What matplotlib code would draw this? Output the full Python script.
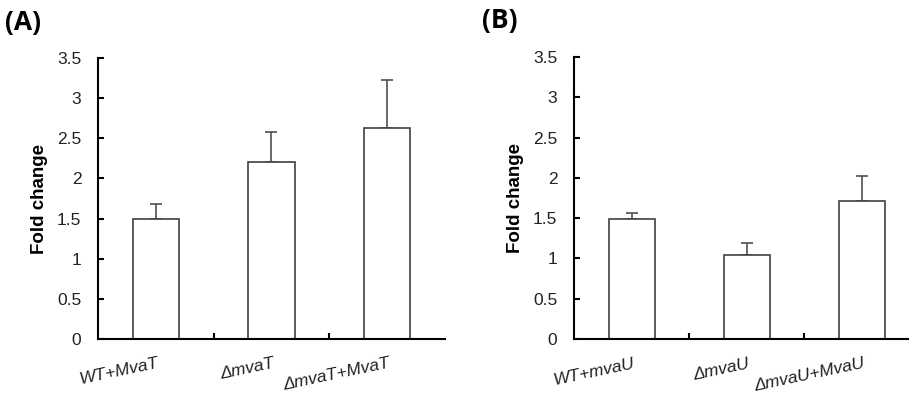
import matplotlib.pyplot as plt
import numpy as np

# panel A
labels_a = ["WT+MvaT", "ΔmvaT", "ΔmvaT+MvaT"]
vals_a = [1.49, 2.20, 2.63]
err_a = [0.19, 0.38, 0.60]

# panel B
labels_b = ["WT+mvaU", "ΔmvaU", "ΔmvaU+MvaU"]
vals_b = [1.49, 1.04, 1.71]
err_b = [0.07, 0.15, 0.31]

yticks = [0, 0.5, 1, 1.5, 2, 2.5, 3, 3.5]
ytick_labels = ["0", "0.5", "1", "1.5", "2", "2.5", "3", "3.5"]

plt.rcParams['font.family'] = ['Liberation Sans', 'DejaVu Sans']

fig = plt.figure(figsize=(9.09, 4.01), dpi=100)
ax_a = fig.add_axes([0.1078, 0.1546, 0.3817, 0.7007])
ax_b = fig.add_axes([0.6315, 0.1546, 0.3795, 0.7032])


def draw(ax, labels, vals, err, tag):
    x = np.arange(len(vals))
    ax.bar(x, vals, width=0.4, color='white', edgecolor='#404040', linewidth=1.2, zorder=2)
    ax.errorbar(x, vals, yerr=[np.zeros(len(err)), err], fmt='none', ecolor='#505050',
                elinewidth=1.2, capsize=4, capthick=1.2, zorder=1)
    ax.set_xlim(-0.5, len(vals) - 0.5)
    ax.set_ylim(0, 3.5)
    ax.set_yticks(yticks)
    ax.set_yticklabels(ytick_labels, fontsize=12.5, color='#222222')
    ax.set_xticks([0.5, 1.5])
    ax.set_xticklabels([])
    ax.tick_params(axis='y', direction='in', length=4, width=1.5, pad=12)
    ax.tick_params(axis='x', direction='in', length=4, width=1.5)
    for s in ['top', 'right']:
        ax.spines[s].set_visible(False)
    for s in ['left', 'bottom']:
        ax.spines[s].set_linewidth(1.5)
    for i, lab in enumerate(labels):
        ax.text(i + 0.01, -0.06, lab, transform=ax.get_xaxis_transform(), ha='right', va='top',
                rotation=12, rotation_mode='anchor', fontsize=12.5, style='italic', color='#222222')
    ax.set_ylabel("Fold change", fontsize=13.5, fontweight='bold')
    ax.yaxis.set_label_coords(-0.145, 0.5)
    ax.text(-0.268, 1.128, tag, transform=ax.transAxes, fontsize=19, fontweight='bold',
            family=['Open Sans', 'DejaVu Sans'], va='center', ha='left')


draw(ax_a, labels_a, vals_a, err_a, "(A)")
draw(ax_b, labels_b, vals_b, err_b, "(B)")

fig.savefig("out.png", dpi=100)
